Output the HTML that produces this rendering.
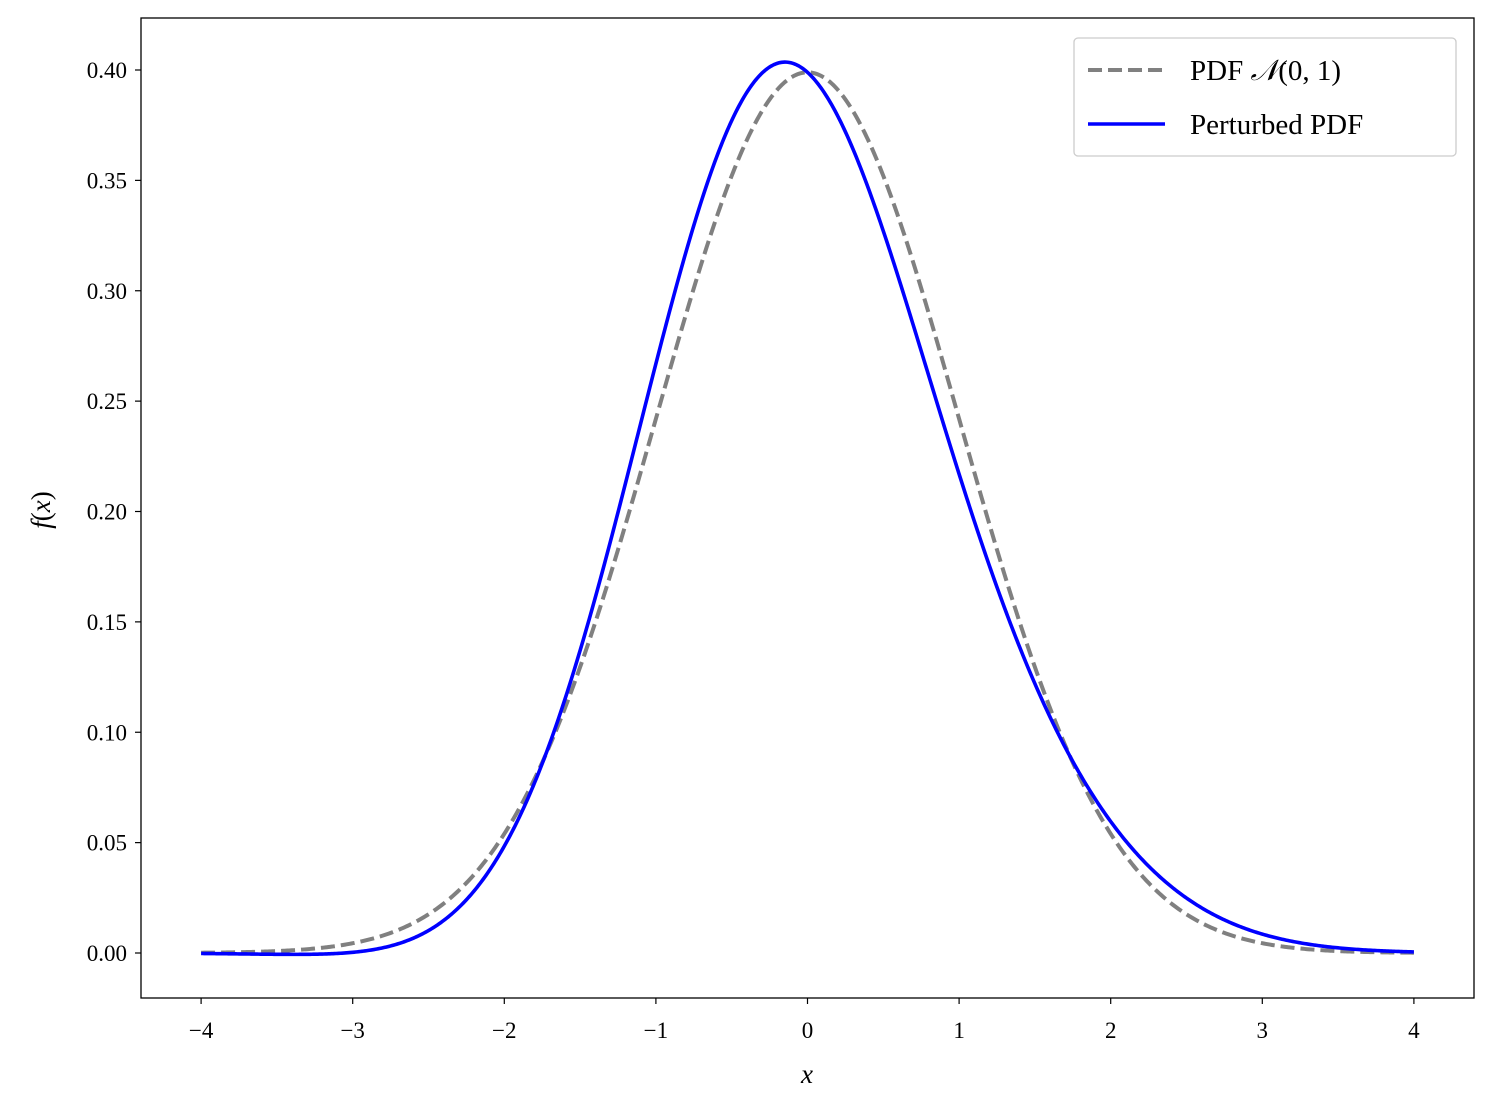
<!DOCTYPE html>
<html><head><meta charset="utf-8"><style>
body{margin:0;background:#fff;}
svg text{font-family:"Liberation Serif",serif;font-size:23px;fill:#000;}
</style></head><body>
<svg id="s" width="1493" height="1109" xmlns="http://www.w3.org/2000/svg">
<rect x="0" y="0" width="1493" height="1109" fill="#fff"/>
<g id="ticks"></g>
<path id="g" fill="none" stroke="#808080" stroke-width="4" stroke-dasharray="14,6"/>
<path id="b" fill="none" stroke="#0000ff" stroke-width="3.6"/>
<rect x="141" y="18" width="1333" height="980" fill="none" stroke="#000" stroke-width="1.3"/>
<text x="807" y="1083" text-anchor="middle" font-style="italic" style="font-size:27px">x</text>
<text transform="translate(50,510) rotate(-90)" text-anchor="middle" style="font-size:27px"><tspan font-style="italic">f</tspan>(<tspan font-style="italic">x</tspan>)</text>
<rect x="1074" y="38" width="382" height="118" rx="4" fill="#fff" stroke="#ccc" stroke-width="1.3"/>
<line x1="1088" y1="70" x2="1165" y2="70" stroke="#808080" stroke-width="4" stroke-dasharray="14,6"/>
<line x1="1088" y1="124" x2="1165" y2="124" stroke="#0000ff" stroke-width="3.6"/>
<text x="1190" y="80" style="font-size:29px">PDF <tspan font-style="italic">𝒩</tspan>(0, 1)</text>
<text x="1190" y="134" style="font-size:29px">Perturbed PDF</text>
</svg>
<script>
var X=function(x){return 807.5+x*151.6},Y=function(y){return 953-y*2207.5};
var phi=function(x){return Math.exp(-x*x/2)/Math.sqrt(2*Math.PI)};
var g="",b="";
for(var i=0;i<=800;i++){var x=-4+i*0.01;var p=phi(x);var q=p*(1+0.31/6*(x*x*x-3*x));
g+=(i?"L":"M")+X(x).toFixed(2)+","+Y(p).toFixed(2);b+=(i?"L":"M")+X(x).toFixed(2)+","+Y(q).toFixed(2);}
document.getElementById("g").setAttribute("d",g);document.getElementById("b").setAttribute("d",b);
var t="";
for(var k=-4;k<=4;k++){var px=X(k);t+='<line x1="'+px+'" y1="998" x2="'+px+'" y2="1004" stroke="#000" stroke-width="1.2"/>';
t+='<text x="'+px+'" y="1038" text-anchor="middle">'+(k<0?"\u2212"+(-k):k)+'</text>';}
for(var j=0;j<=8;j++){var v=j*0.05,py=Y(v);t+='<line x1="135" y1="'+py+'" x2="141" y2="'+py+'" stroke="#000" stroke-width="1.2"/>';
t+='<text x="127" y="'+(py+8)+'" text-anchor="end">'+v.toFixed(2)+'</text>';}
document.getElementById("ticks").innerHTML=t;
</script>
</body></html>
